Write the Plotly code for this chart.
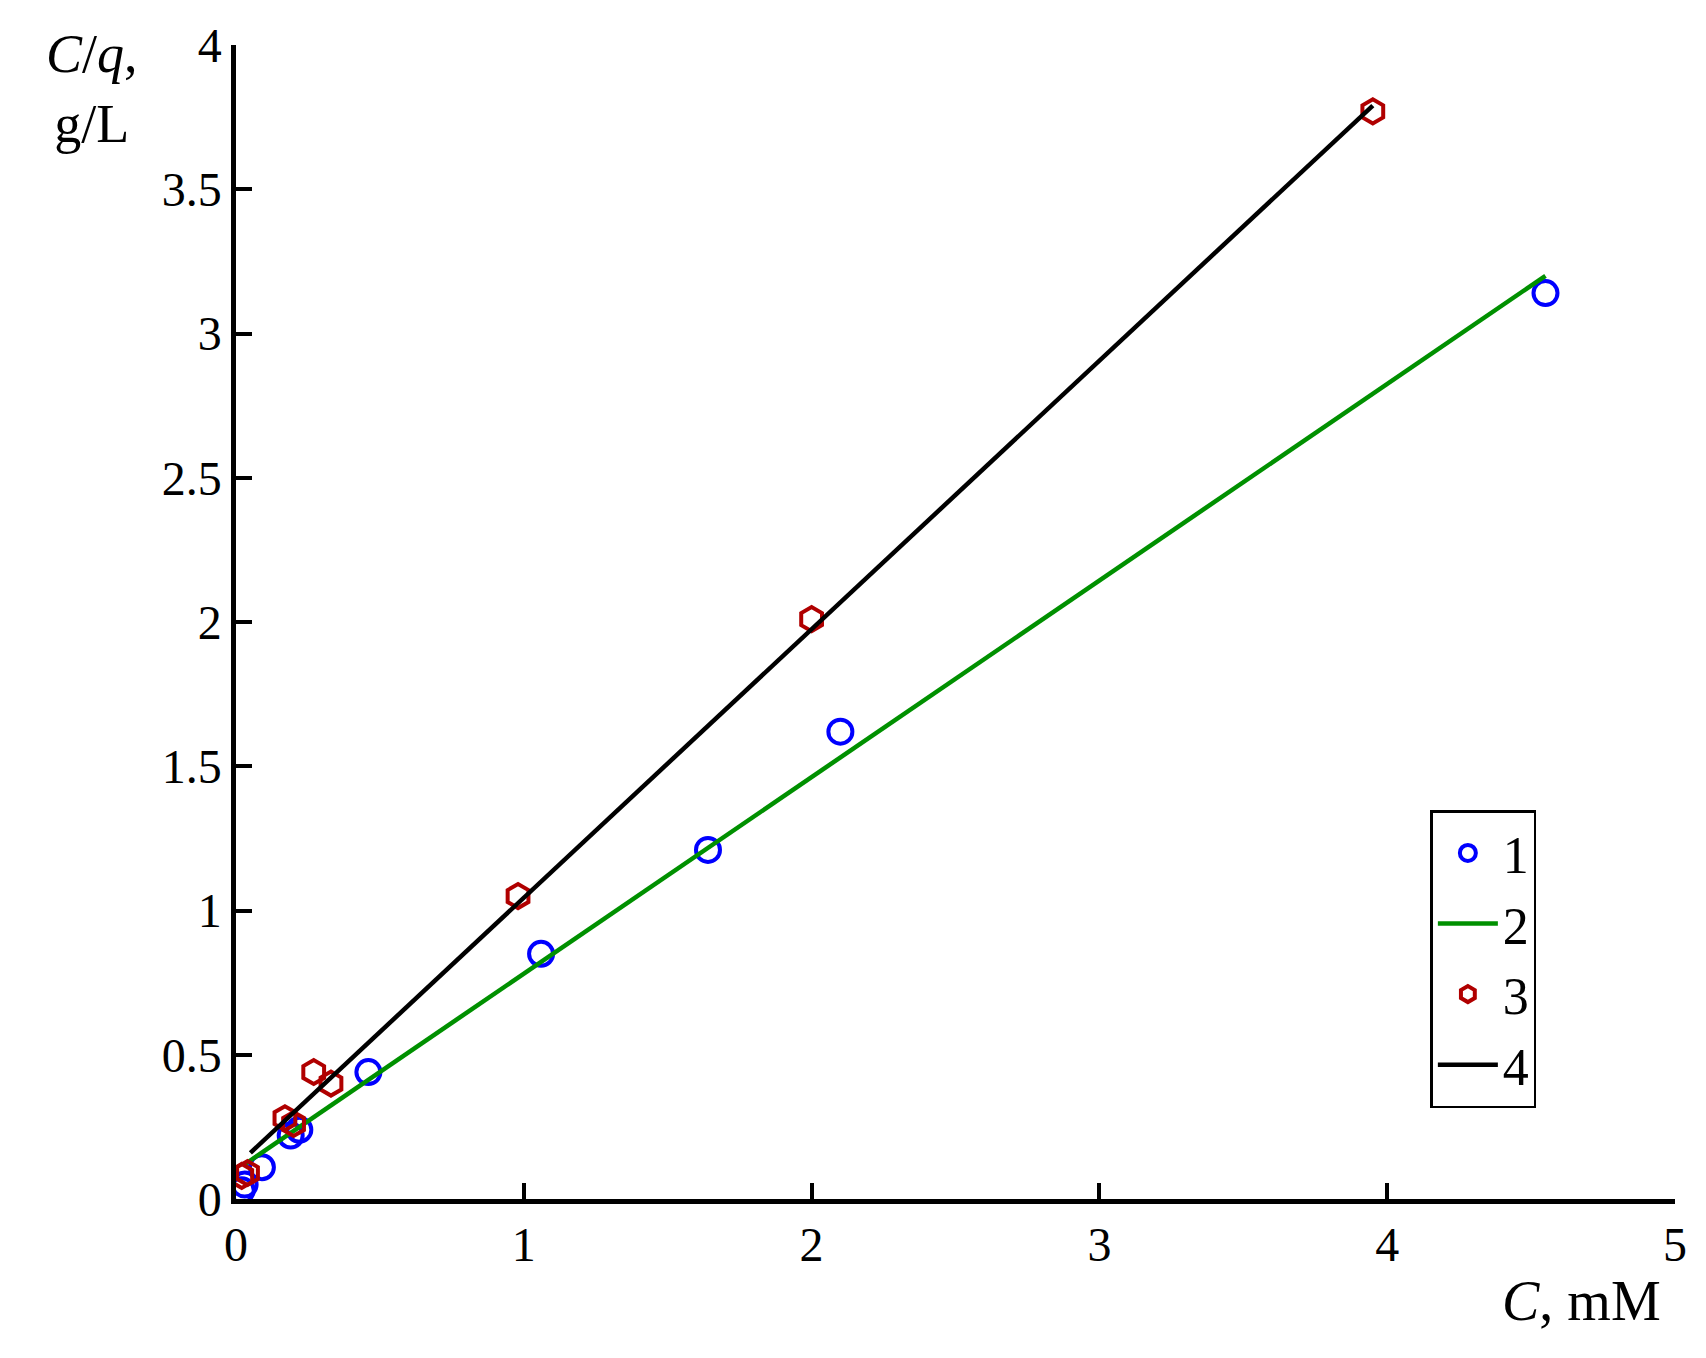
import plotly.graph_objects as go

blue_x = [0.02, 0.03, 0.09, 0.19, 0.22, 0.46, 1.06, 1.64, 2.10, 4.55]
blue_y = [0.03, 0.05, 0.11, 0.22, 0.24, 0.44, 0.85, 1.21, 1.62, 3.14]
red_x = [0.02, 0.04, 0.17, 0.20, 0.27, 0.33, 0.98, 2.00, 3.95]
red_y = [0.08, 0.09, 0.28, 0.26, 0.44, 0.40, 1.05, 2.01, 3.77]
green_x = [0.03, 4.55]
green_y = [0.12, 3.20]
black_x = [0.05, 3.95]
black_y = [0.16, 3.79]

font = "Liberation Serif"
fig = go.Figure()
fig.add_trace(go.Scatter(x=blue_x, y=blue_y, mode="markers", name="1",
                         marker=dict(color="#0000ff", symbol="circle-open", size=24, line=dict(width=4))))
fig.add_trace(go.Scatter(x=green_x, y=green_y, mode="lines", name="2",
                         line=dict(color="#009000", width=4.5)))
fig.add_trace(go.Scatter(x=red_x, y=red_y, mode="markers", name="3",
                         marker=dict(color="#b00000", symbol="hexagon-open", size=24, line=dict(width=4))))
fig.add_trace(go.Scatter(x=black_x, y=black_y, mode="lines", name="4",
                         line=dict(color="#000000", width=4.5)))

ax = dict(showgrid=False, zeroline=False, showline=True, linecolor="black", linewidth=4.5,
          ticks="inside", ticklen=16, tickwidth=3.5, tickcolor="black",
          tickfont=dict(family=font, size=48, color="black"))
fig.update_layout(
    width=1706, height=1358, paper_bgcolor="white", plot_bgcolor="white",
    margin=dict(l=228, r=39, t=37, b=167),
    font=dict(family=font, color="black"),
    xaxis=dict(range=[0, 5], dtick=1, **ax),
    yaxis=dict(range=[0, 4], dtick=0.5, tickformat="~g", **ax),
    legend=dict(x=0.83, y=0.337, xanchor="left", yanchor="top",
                bordercolor="black", borderwidth=2.5, bgcolor="white",
                font=dict(family=font, size=52), itemwidth=60, tracegroupgap=0),
    annotations=[
        dict(text="<i>C</i>/<i>q</i>,<br>g/L", xref="paper", yref="paper", x=-0.1, y=1.02,
             xanchor="center", yanchor="top", showarrow=False, align="center",
             font=dict(family=font, size=54)),
        dict(text="<i>C</i>, mM", xref="paper", yref="paper", x=0.935, y=-0.06,
             xanchor="center", yanchor="top", showarrow=False,
             font=dict(family=font, size=56)),
    ],
)
fig.write_html("out.html")
